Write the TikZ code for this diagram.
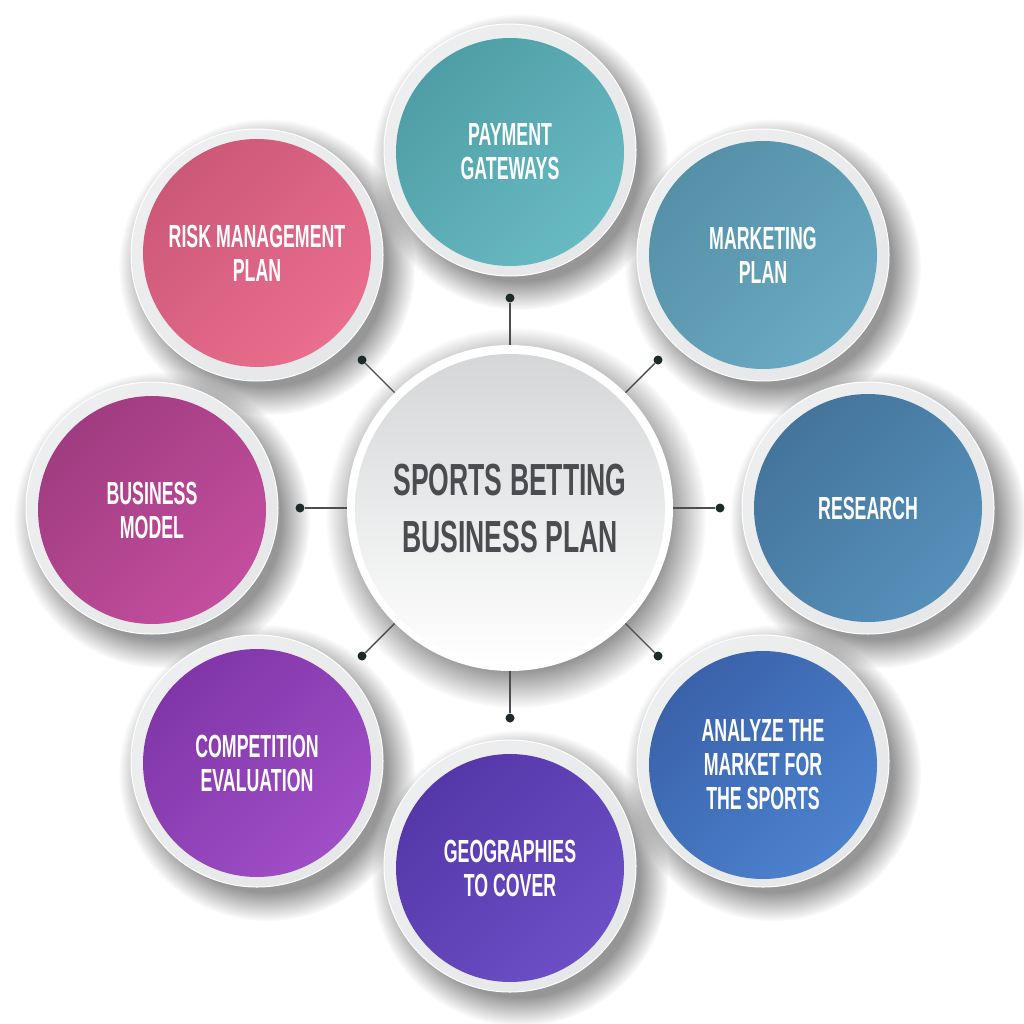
\documentclass[tikz,border=0pt]{standalone}
\usepackage{fontspec}
\usetikzlibrary{fadings}
\newfontfamily\bigf[FakeStretch=0.59]{Liberation Sans}
\newfontfamily\smallf[FakeStretch=0.555]{Liberation Sans}
\definecolor{ringgray}{HTML}{E6E7E8}
\definecolor{dotc}{HTML}{1E2A2A}
\definecolor{linec}{HTML}{4A4E50}
\definecolor{centertext}{HTML}{4A4C50}
\definecolor{shadowc}{HTML}{505050}
\definecolor{payA}{HTML}{4F9EA6}\definecolor{payB}{HTML}{68BAC2}
\definecolor{mktA}{HTML}{5590A8}\definecolor{mktB}{HTML}{6AAAC2}
\definecolor{resA}{HTML}{44749C}\definecolor{resB}{HTML}{5690BA}
\definecolor{anaA}{HTML}{3A62AA}\definecolor{anaB}{HTML}{4C82CE}
\definecolor{geoA}{HTML}{5438A8}\definecolor{geoB}{HTML}{6C4EC6}
\definecolor{comA}{HTML}{8036A8}\definecolor{comB}{HTML}{A04EC6}
\definecolor{busA}{HTML}{A03C80}\definecolor{busB}{HTML}{C44E9E}
\definecolor{rskA}{HTML}{CC5878}\definecolor{rskB}{HTML}{EA6E8E}
\definecolor{cenA}{HTML}{D4D6D7}
\begin{document}
\begin{tikzpicture}[x=1pt,y=-1pt,
  softshadow/.style={fill=shadowc, fill opacity=0.6, path fading=circle with fuzzy edge 20 percent},
  ring/.style={circle, minimum size=252pt, inner sep=0pt, top color=ringgray!70!white, bottom color=ringgray, shading angle=45, draw=white, line width=1pt},
  disk/.style n args={2}{circle, minimum size=228pt, inner sep=0pt, top color=#1, bottom color=#2,
    shading angle=45, text=white, font=\smallf\bfseries\fontsize{32}{34}\selectfont, align=center},
  dotnode/.style={circle, fill=dotc, minimum size=9pt, inner sep=0pt},
  link/.style={draw=linec, line width=1.4pt}]
\useasboundingbox (0,0) rectangle (1024,1024);
\fill[white] (0,0) rectangle (1024,1024);

% shadows
\foreach \p in {(520,162),(773,267),(878,520),(773,773),(520,878),(267,773),(162,520),(267,267)}
  { \fill[softshadow] \p circle (148); }
\fill[softshadow] (516,518) circle (190);

% satellites
\node[ring] (s1) at (510,150) {};
\node[disk={payA}{payB}] (t1) at (510,152) {PAYMENT\\GATEWAYS};
\node[ring] (s2) at (763,255) {};
\node[disk={mktA}{mktB}] (t2) at (763,255) {MARKETING\\PLAN};
\node[ring] (s3) at (868,508) {};
\node[disk={resA}{resB}] (t3) at (868,508) {RESEARCH};
\node[ring] (s4) at (763,761) {};
\node[disk={anaA}{anaB}] (t4) at (763,765) {ANALYZE THE\\MARKET FOR\\THE SPORTS};
\node[ring] (s5) at (510,866) {};
\node[disk={geoA}{geoB}] (t5) at (510,868) {GEOGRAPHIES\\TO COVER};
\node[ring] (s6) at (257,761) {};
\node[disk={comA}{comB}] (t6) at (257,763) {COMPETITION\\EVALUATION};
\node[ring] (s7) at (152,508) {};
\node[disk={busA}{busB}] (t7) at (152,510) {BUSINESS\\MODEL};
\node[ring] (s8) at (257,255) {};
\node[disk={rskA}{rskB}] (t8) at (257,253) {RISK MANAGEMENT\\PLAN};

% center
\node[circle, minimum size=326pt, inner sep=0pt, fill=white] (c) at (510,508) {};
\node[circle, minimum size=310pt, inner sep=0pt, top color=cenA, bottom color=white,
  text=centertext, font=\bigf\bfseries\fontsize{45}{57}\selectfont, align=center] (ct) at (510,509) {SPORTS BETTING\\BUSINESS PLAN};

% dots and links
\node[dotnode] (d1) at (510,298) {};
\node[dotnode] (d2) at (658,360) {};
\node[dotnode] (d3) at (720,508) {};
\node[dotnode] (d4) at (658,656) {};
\node[dotnode] (d5) at (510,718) {};
\node[dotnode] (d6) at (362,656) {};
\node[dotnode] (d7) at (300,508) {};
\node[dotnode] (d8) at (362,360) {};
\foreach \i in {1,...,8} { \draw[link] (c) -- (d\i); }
\end{tikzpicture}
\end{document}
